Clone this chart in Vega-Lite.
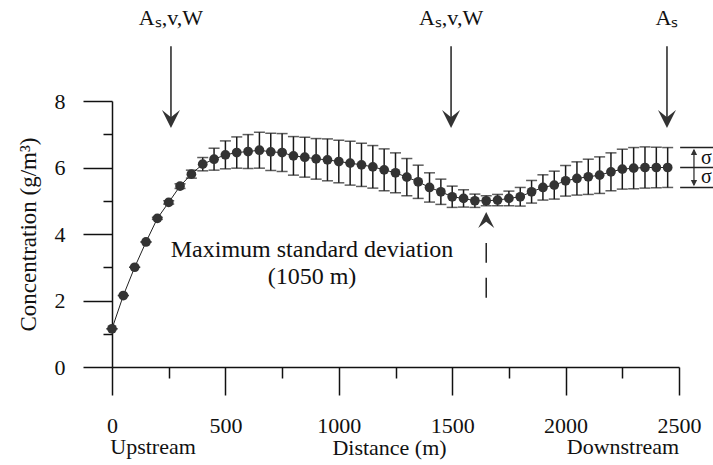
{
  "$schema": "https://vega.github.io/schema/vega-lite/v6.json",
  "width": 567,
  "height": 266,
  "autosize": {"type": "none"},
  "padding": {"left": 112, "top": 101, "right": 34, "bottom": 98},
  "background": "white",
  "config": {
    "view": {"stroke": null},
    "font": "Liberation Serif",
    "axis": {"grid": false, "domainColor": "#111", "tickColor": "#111", "labelColor": "#111", "titleColor": "#111", "labelFont": "Liberation Serif", "titleFont": "Liberation Serif", "titleFontWeight": "normal", "domainWidth": 1.5, "tickWidth": 1.5}
  },
  "datasets": {
    "main": [
      {"x": 0, "y": 1.15, "sd": 0}, {"x": 50, "y": 2.15, "sd": 0}, {"x": 100, "y": 3.0, "sd": 0},
      {"x": 150, "y": 3.76, "sd": 0}, {"x": 200, "y": 4.47, "sd": 0.03}, {"x": 250, "y": 4.95, "sd": 0.05},
      {"x": 300, "y": 5.44, "sd": 0.07}, {"x": 350, "y": 5.8, "sd": 0.12}, {"x": 400, "y": 6.1, "sd": 0.2},
      {"x": 450, "y": 6.25, "sd": 0.33}, {"x": 500, "y": 6.38, "sd": 0.42}, {"x": 550, "y": 6.45, "sd": 0.47},
      {"x": 600, "y": 6.48, "sd": 0.51}, {"x": 650, "y": 6.52, "sd": 0.54}, {"x": 700, "y": 6.47, "sd": 0.56},
      {"x": 750, "y": 6.45, "sd": 0.57}, {"x": 800, "y": 6.35, "sd": 0.58}, {"x": 850, "y": 6.31, "sd": 0.6},
      {"x": 900, "y": 6.26, "sd": 0.61}, {"x": 950, "y": 6.23, "sd": 0.63}, {"x": 1000, "y": 6.18, "sd": 0.64},
      {"x": 1050, "y": 6.13, "sd": 0.66}, {"x": 1100, "y": 6.08, "sd": 0.65}, {"x": 1150, "y": 6.02, "sd": 0.64},
      {"x": 1200, "y": 5.93, "sd": 0.63}, {"x": 1250, "y": 5.84, "sd": 0.6}, {"x": 1300, "y": 5.71, "sd": 0.56},
      {"x": 1350, "y": 5.57, "sd": 0.5}, {"x": 1400, "y": 5.4, "sd": 0.44}, {"x": 1450, "y": 5.27, "sd": 0.38},
      {"x": 1500, "y": 5.12, "sd": 0.32}, {"x": 1550, "y": 5.07, "sd": 0.26}, {"x": 1600, "y": 5.0, "sd": 0.2},
      {"x": 1650, "y": 5.0, "sd": 0.15}, {"x": 1700, "y": 5.02, "sd": 0.17}, {"x": 1750, "y": 5.07, "sd": 0.22},
      {"x": 1800, "y": 5.12, "sd": 0.28}, {"x": 1850, "y": 5.27, "sd": 0.34}, {"x": 1900, "y": 5.4, "sd": 0.38},
      {"x": 1950, "y": 5.47, "sd": 0.42}, {"x": 2000, "y": 5.6, "sd": 0.46}, {"x": 2050, "y": 5.67, "sd": 0.5},
      {"x": 2100, "y": 5.72, "sd": 0.53}, {"x": 2150, "y": 5.77, "sd": 0.55}, {"x": 2200, "y": 5.87, "sd": 0.57},
      {"x": 2250, "y": 5.95, "sd": 0.6}, {"x": 2300, "y": 5.98, "sd": 0.62}, {"x": 2350, "y": 6.0, "sd": 0.62},
      {"x": 2400, "y": 6.0, "sd": 0.61}, {"x": 2450, "y": 6.0, "sd": 0.6}
    ],
    "arrows": [
      {"x": 260, "y": 9.65, "y2": 7.46, "label": "Aₛ,v,W", "t": 10.3},
      {"x": 1495, "y": 9.65, "y2": 7.46, "label": "Aₛ,v,W", "t": 10.3},
      {"x": 2447, "y": 9.65, "y2": 7.46, "label": "Aₛ", "t": 10.3}
    ],
    "dashed": [{"x": 1650, "y": 2.08, "y2": 3.73, "h": 4.42}],
    "notes": [
      {"x": 882, "y": 3.52, "label": "Maximum standard deviation"},
      {"x": 882, "y": 2.71, "label": "(1050 m)"}
    ],
    "ends": [
      {"x": 181, "y": -2.62, "label": "Upstream"},
      {"x": 2253, "y": -2.62, "label": "Downstream"}
    ],
    "legendLines": [
      {"x": 2505, "x2": 2665, "y": 6.6},
      {"x": 2505, "x2": 2665, "y": 6.0},
      {"x": 2505, "x2": 2665, "y": 5.4}
    ],
    "legendArrow": [{"x": 2566, "y": 5.47, "y2": 6.53}],
    "legendHeads": [
      {"x": 2566, "y": 6.47, "dir": "up"},
      {"x": 2566, "y": 5.53, "dir": "down"}
    ],
    "sigma": [
      {"x": 2597, "y": 6.3, "label": "σ"},
      {"x": 2597, "y": 5.7, "label": "σ"}
    ]
  },
  "layer": [
    {
      "data": {"name": "main"},
      "mark": {"type": "line", "color": "#222", "strokeWidth": 1},
      "encoding": {
        "x": {"field": "x", "type": "quantitative", "scale": {"domain": [0, 2500], "nice": false, "zero": false},
              "axis": {"orient": "bottom", "values": [250, 750, 1250, 1750, 2250], "tickSize": 11, "labels": false, "domain": false, "title": null}},
        "y": {"field": "y", "type": "quantitative", "scale": {"domain": [0, 8], "nice": false, "zero": false},
              "axis": {"orient": "left", "values": [1, 3, 5, 7], "tickSize": 9, "labels": false, "domain": false, "title": null}}
      }
    },
    {
      "data": {"name": "main"},
      "mark": {"type": "errorbar", "color": "#1a1a1a", "thickness": 1.5, "ticks": {"size": 11, "thickness": 1.5, "color": "#1a1a1a"}},
      "encoding": {
        "x": {"field": "x", "type": "quantitative", "scale": {"domain": [0, 2500], "nice": false, "zero": false}, "axis": null},
        "y": {"field": "y", "type": "quantitative", "scale": {"domain": [0, 8], "nice": false, "zero": false}, "axis": null},
        "yError": {"field": "sd"}
      }
    },
    {
      "data": {"name": "main"},
      "mark": {"type": "point", "filled": true, "shape": "circle", "size": 95, "color": "#333333", "opacity": 1},
      "encoding": {
        "x": {"field": "x", "type": "quantitative", "scale": {"domain": [0, 2500], "nice": false, "zero": false},
              "axis": {"orient": "bottom", "values": [0, 500, 1000, 1500, 2000, 2500], "format": "d", "tickSize": 28, "labelPadding": 20, "labelFontSize": 22, "labelFlush": false,
                       "title": "Distance (m)", "titleFontSize": 22, "titleX": 277, "titleY": 87, "titleBaseline": "alphabetic", "titleAlign": "center", "titleAnchor": null}},
        "y": {"field": "y", "type": "quantitative", "scale": {"domain": [0, 8], "nice": false, "zero": false},
              "axis": {"orient": "left", "values": [0, 2, 4, 6, 8], "format": "d", "tickSize": 29, "labelPadding": 18, "labelFontSize": 22, "labelFlush": false,
                       "title": "Concentration (g/m³)", "titleFontSize": 23, "titlePadding": 14}}
      }
    },
    {
      "data": {"name": "arrows"},
      "mark": {"type": "rule", "color": "#222", "strokeWidth": 1.5},
      "encoding": {
        "x": {"field": "x", "type": "quantitative", "scale": {"domain": [0, 2500], "nice": false, "zero": false}, "axis": null},
        "y": {"field": "y", "type": "quantitative", "scale": {"domain": [0, 8], "nice": false, "zero": false}, "axis": null},
        "y2": {"field": "y2"}
      }
    },
    {
      "data": {"name": "arrows"},
      "mark": {"type": "point", "filled": true, "size": 324, "color": "#333", "opacity": 1, "shape": "M0,1 L1,-1 L0,-0.2 L-1,-1 Z"},
      "encoding": {
        "x": {"field": "x", "type": "quantitative", "scale": {"domain": [0, 2500], "nice": false, "zero": false}, "axis": null},
        "y": {"field": "y2", "type": "quantitative", "scale": {"domain": [0, 8], "nice": false, "zero": false}, "axis": null}
      }
    },
    {
      "data": {"name": "arrows"},
      "mark": {"type": "text", "font": "Liberation Serif", "fontSize": 22, "color": "#111", "align": "center", "baseline": "alphabetic"},
      "encoding": {
        "x": {"field": "x", "type": "quantitative", "scale": {"domain": [0, 2500], "nice": false, "zero": false}, "axis": null},
        "y": {"field": "t", "type": "quantitative", "scale": {"domain": [0, 8], "nice": false, "zero": false}, "axis": null},
        "text": {"field": "label"}
      }
    },
    {
      "data": {"name": "dashed"},
      "mark": {"type": "rule", "color": "#222", "strokeWidth": 1.5, "strokeDash": [20, 15]},
      "encoding": {
        "x": {"field": "x", "type": "quantitative", "scale": {"domain": [0, 2500], "nice": false, "zero": false}, "axis": null},
        "y": {"field": "y", "type": "quantitative", "scale": {"domain": [0, 8], "nice": false, "zero": false}, "axis": null},
        "y2": {"field": "y2"}
      }
    },
    {
      "data": {"name": "dashed"},
      "mark": {"type": "point", "filled": true, "size": 256, "color": "#333", "opacity": 1, "shape": "M0,-1 L1,1 L0,0.2 L-1,1 Z"},
      "encoding": {
        "x": {"field": "x", "type": "quantitative", "scale": {"domain": [0, 2500], "nice": false, "zero": false}, "axis": null},
        "y": {"field": "h", "type": "quantitative", "scale": {"domain": [0, 8], "nice": false, "zero": false}, "axis": null}
      }
    },
    {
      "data": {"name": "notes"},
      "mark": {"type": "text", "font": "Liberation Serif", "fontSize": 24, "color": "#111", "align": "center", "baseline": "middle"},
      "encoding": {
        "x": {"field": "x", "type": "quantitative", "scale": {"domain": [0, 2500], "nice": false, "zero": false}, "axis": null},
        "y": {"field": "y", "type": "quantitative", "scale": {"domain": [0, 8], "nice": false, "zero": false}, "axis": null},
        "text": {"field": "label"}
      }
    },
    {
      "data": {"name": "ends"},
      "mark": {"type": "text", "font": "Liberation Serif", "fontSize": 22, "color": "#111", "align": "center", "baseline": "alphabetic"},
      "encoding": {
        "x": {"field": "x", "type": "quantitative", "scale": {"domain": [0, 2500], "nice": false, "zero": false}, "axis": null},
        "y": {"field": "y", "type": "quantitative", "scale": {"domain": [0, 8], "nice": false, "zero": false}, "axis": null},
        "text": {"field": "label"}
      }
    },
    {
      "data": {"name": "legendLines"},
      "mark": {"type": "rule", "color": "#222", "strokeWidth": 1.5},
      "encoding": {
        "x": {"field": "x", "type": "quantitative", "scale": {"domain": [0, 2500], "nice": false, "zero": false}, "axis": null},
        "x2": {"field": "x2"},
        "y": {"field": "y", "type": "quantitative", "scale": {"domain": [0, 8], "nice": false, "zero": false}, "axis": null}
      }
    },
    {
      "data": {"name": "legendArrow"},
      "mark": {"type": "rule", "color": "#222", "strokeWidth": 1.2},
      "encoding": {
        "x": {"field": "x", "type": "quantitative", "scale": {"domain": [0, 2500], "nice": false, "zero": false}, "axis": null},
        "y": {"field": "y", "type": "quantitative", "scale": {"domain": [0, 8], "nice": false, "zero": false}, "axis": null},
        "y2": {"field": "y2"}
      }
    },
    {
      "data": {"name": "legendHeads"},
      "mark": {"type": "point", "filled": true, "size": 40, "color": "#333", "opacity": 1},
      "encoding": {
        "x": {"field": "x", "type": "quantitative", "scale": {"domain": [0, 2500], "nice": false, "zero": false}, "axis": null},
        "y": {"field": "y", "type": "quantitative", "scale": {"domain": [0, 8], "nice": false, "zero": false}, "axis": null},
        "shape": {"field": "dir", "type": "nominal", "scale": {"domain": ["up", "down"], "range": ["M0,-1 L1,1 L-1,1 Z", "M0,1 L1,-1 L-1,-1 Z"]}, "legend": null}
      }
    },
    {
      "data": {"name": "sigma"},
      "mark": {"type": "text", "font": "Liberation Serif", "fontSize": 20, "color": "#111", "align": "left", "baseline": "middle"},
      "encoding": {
        "x": {"field": "x", "type": "quantitative", "scale": {"domain": [0, 2500], "nice": false, "zero": false}, "axis": null},
        "y": {"field": "y", "type": "quantitative", "scale": {"domain": [0, 8], "nice": false, "zero": false}, "axis": null},
        "text": {"field": "label"}
      }
    }
  ],
  "resolve": {"axis": {"x": "independent", "y": "independent"}}
}
